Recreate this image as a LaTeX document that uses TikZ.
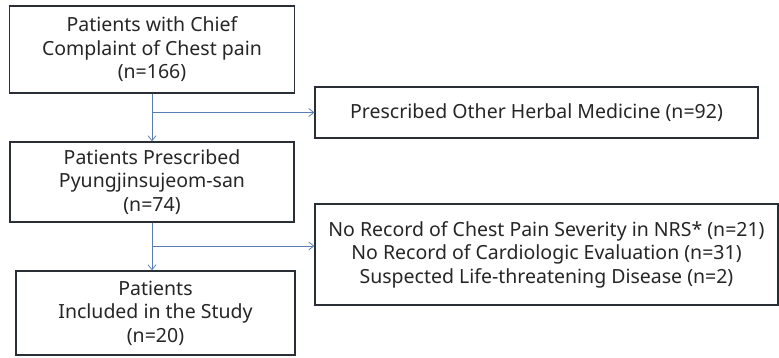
\documentclass[tikz,border=0pt]{standalone}
\usepackage{fontspec}
\setmainfont{Noto Sans}
\usetikzlibrary{arrows.meta}
\definecolor{linkblue}{HTML}{5A7DB5}
\definecolor{boxline}{HTML}{2A2F36}
\begin{document}
\begin{tikzpicture}[x=1pt,y=-1pt,
  box/.style={draw=boxline,line width=1.3pt,fill=white,rectangle,align=center,
    font=\fontsize{19.5}{23.5}\selectfont,text=black!85,inner sep=0pt},
  link/.style={draw=linkblue,line width=0.8pt},
  arr/.style={link,-{Straight Barb[length=5pt,width=8pt]}}]
\useasboundingbox (0,0) rectangle (779,357);
\node[box,minimum width=285pt,minimum height=87pt] (b1) at (152,49.5)
  {Patients with Chief\\Complaint of Chest pain\\(n=166)};
\node[box,minimum width=284pt,minimum height=80pt] (b2) at (152,182)
  {Patients Prescribed\\Pyungjinsujeom-san\\(n=74)};
\node[box,minimum width=279pt,minimum height=84pt] (b3) at (155.5,313)
  {Patients\\Included in the Study\\(n=20)};
\node[box,minimum width=443pt,minimum height=51pt] (e1) at (536.5,112.5)
  {Prescribed Other Herbal Medicine (n=92)};
\node[box,minimum width=463pt,minimum height=101pt] (e2) at (546.5,254.5)
  {No Record of Chest Pain Severity in NRS* (n=21)\\No Record of Cardiologic Evaluation (n=31)\\Suspected Life-threatening Disease (n=2)};
\coordinate (j1) at (152,112.5);
\coordinate (j2) at (152,246);
\draw[arr] (b1.south -| j1) -- (b2.north -| j1);
\draw[arr] (j1) -- (e1.west);
\draw[arr] (b2.south -| j2) -- (b3.north -| j2);
\draw[arr] (j2) -- (e2.west |- j2);
\end{tikzpicture}
\end{document}
